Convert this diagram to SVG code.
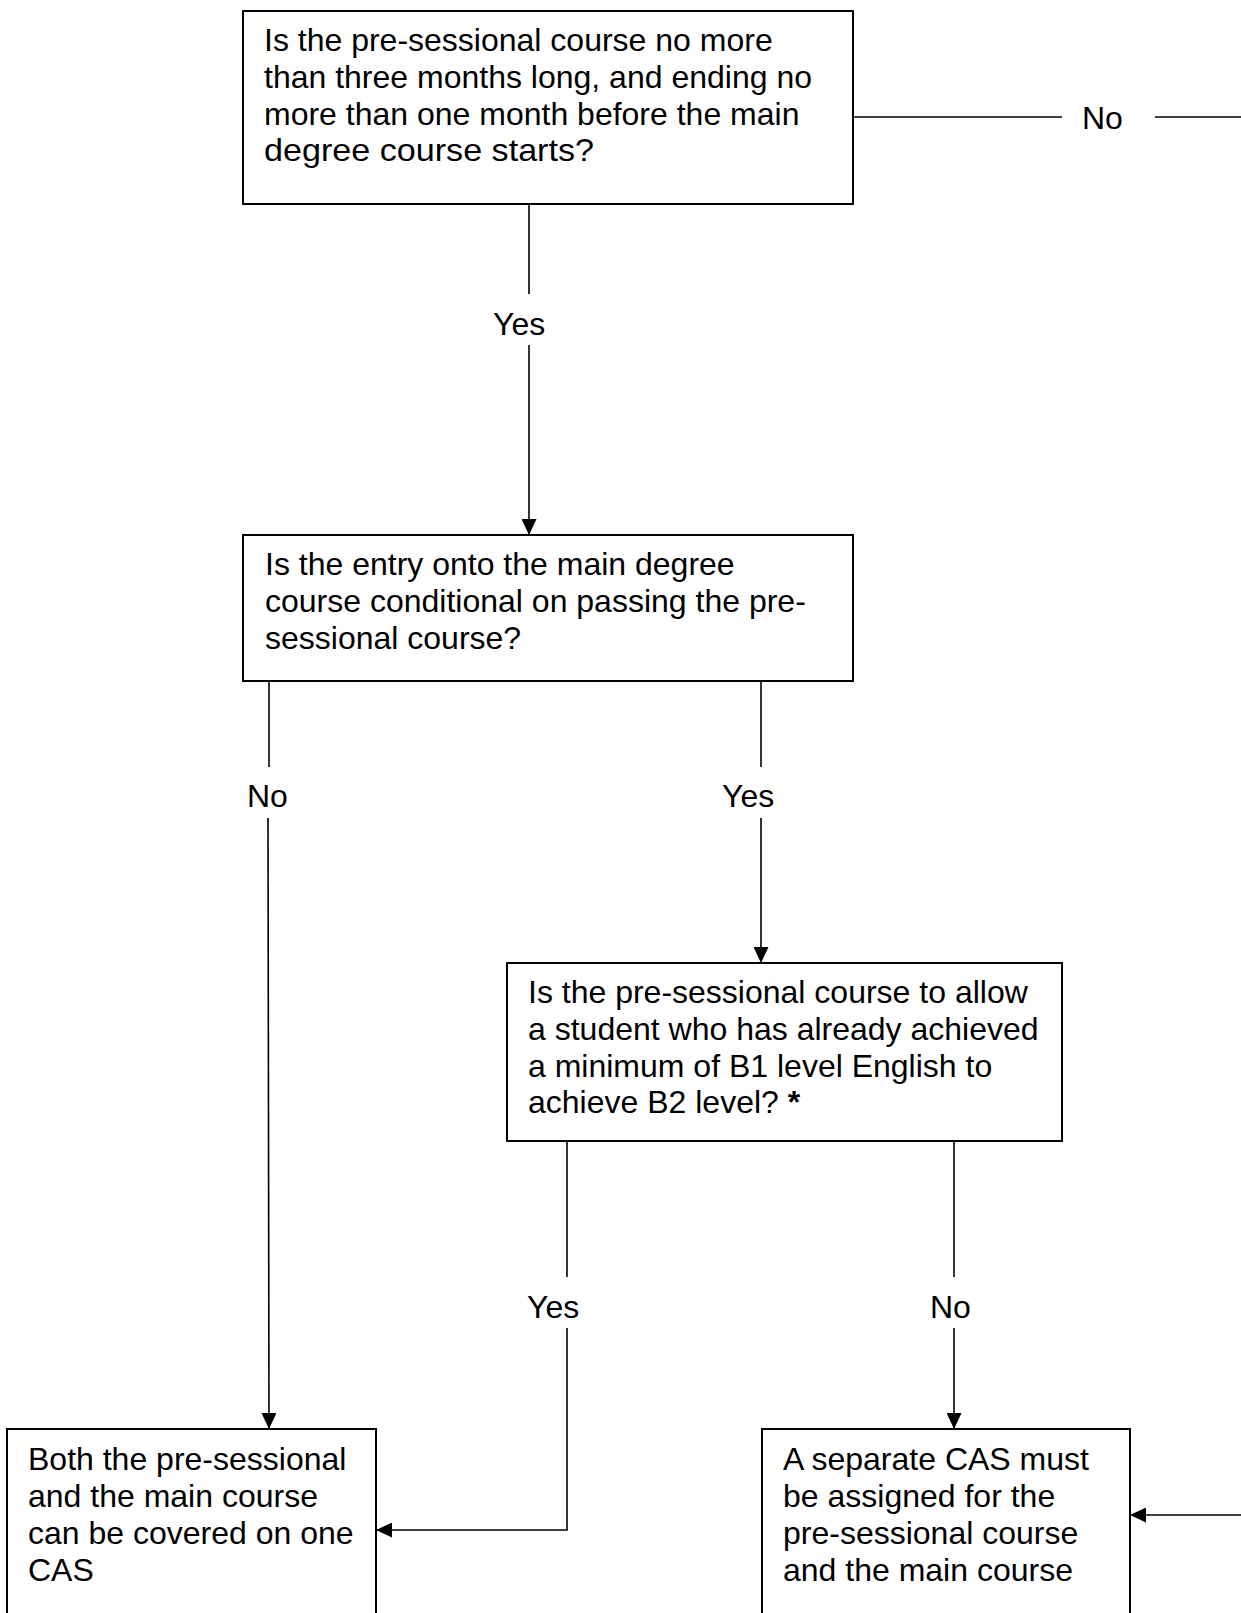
<svg xmlns="http://www.w3.org/2000/svg" width="1241" height="1613" viewBox="0 0 1241 1613">
<style>
  .box { fill: #ffffff; stroke: #000000; stroke-width: 2; }
  .t { font-family: "Liberation Sans", Arial, sans-serif; font-size: 32px; fill: #000000; }
  .c { fill: none; stroke: #000000; stroke-width: 1.6; }
</style>
<defs>
  <marker id="arr" markerUnits="userSpaceOnUse" markerWidth="16" markerHeight="15" refX="16" refY="7.5" orient="auto">
    <path d="M0,0 L16,7.5 L0,15 z" fill="#000000"/>
  </marker>
</defs>
<rect width="1241" height="1613" fill="#ffffff"/>

<g id="connectors">
  <line class="c" x1="853" y1="117" x2="1062" y2="117"/>
  <line class="c" x1="1155" y1="117" x2="1241" y2="117"/>
  <text class="t" x="1082" y="129">No</text>

  <line class="c" x1="529" y1="204" x2="529" y2="294"/>
  <line class="c" x1="529" y1="345" x2="529" y2="535" marker-end="url(#arr)"/>
  <text class="t" x="493" y="335">Yes</text>

  <line class="c" x1="269" y1="681" x2="269" y2="767"/>
  <line class="c" x1="268" y1="818" x2="269" y2="1429" marker-end="url(#arr)"/>
  <text class="t" x="247" y="807">No</text>

  <line class="c" x1="761" y1="681" x2="761" y2="767"/>
  <line class="c" x1="761" y1="818" x2="761" y2="963" marker-end="url(#arr)"/>
  <text class="t" x="722" y="807">Yes</text>

  <line class="c" x1="567" y1="1141" x2="567" y2="1277"/>
  <polyline class="c" points="567,1328 567,1530 376,1530" marker-end="url(#arr)"/>
  <text class="t" x="527" y="1318">Yes</text>

  <line class="c" x1="954" y1="1141" x2="954" y2="1277"/>
  <line class="c" x1="954" y1="1328" x2="954" y2="1429" marker-end="url(#arr)"/>
  <text class="t" x="930" y="1318">No</text>

  <line class="c" x1="1241" y1="1515" x2="1130" y2="1515" marker-end="url(#arr)"/>
</g>

<g id="q1">
  <rect class="box" x="243" y="11" width="610" height="193"/>
  <text class="t" x="264" y="51">Is the pre-sessional course no more</text>
  <text class="t" x="264" y="88">than three months long, and ending no</text>
  <text class="t" x="264" y="125">more than one month before the main</text>
  <text class="t" x="264" y="161" textLength="330" lengthAdjust="spacingAndGlyphs">degree course starts?</text>
</g>

<g id="q2">
  <rect class="box" x="243" y="535" width="610" height="146"/>
  <text class="t" x="265" y="575">Is the entry onto the main degree</text>
  <text class="t" x="265" y="612">course conditional on passing the pre-</text>
  <text class="t" x="265" y="649">sessional course?</text>
</g>

<g id="q3">
  <rect class="box" x="507" y="963" width="555" height="178"/>
  <text class="t" x="528" y="1003">Is the pre-sessional course to allow</text>
  <text class="t" x="528" y="1040">a student who has already achieved</text>
  <text class="t" x="528" y="1077">a minimum of B1 level English to</text>
  <text class="t" x="528" y="1113">achieve B2 level? <tspan font-weight="bold">*</tspan></text>
</g>

<g id="one-cas">
  <rect class="box" x="7" y="1429" width="369" height="200"/>
  <text class="t" x="28" y="1470">Both the pre-sessional</text>
  <text class="t" x="28" y="1507">and the main course</text>
  <text class="t" x="28" y="1544">can be covered on one</text>
  <text class="t" x="28" y="1581">CAS</text>
</g>

<g id="separate-cas">
  <rect class="box" x="762" y="1429" width="368" height="200"/>
  <text class="t" x="783" y="1470">A separate CAS must</text>
  <text class="t" x="783" y="1507">be assigned for the</text>
  <text class="t" x="783" y="1544">pre-sessional course</text>
  <text class="t" x="783" y="1581">and the main course</text>
</g>
</svg>
